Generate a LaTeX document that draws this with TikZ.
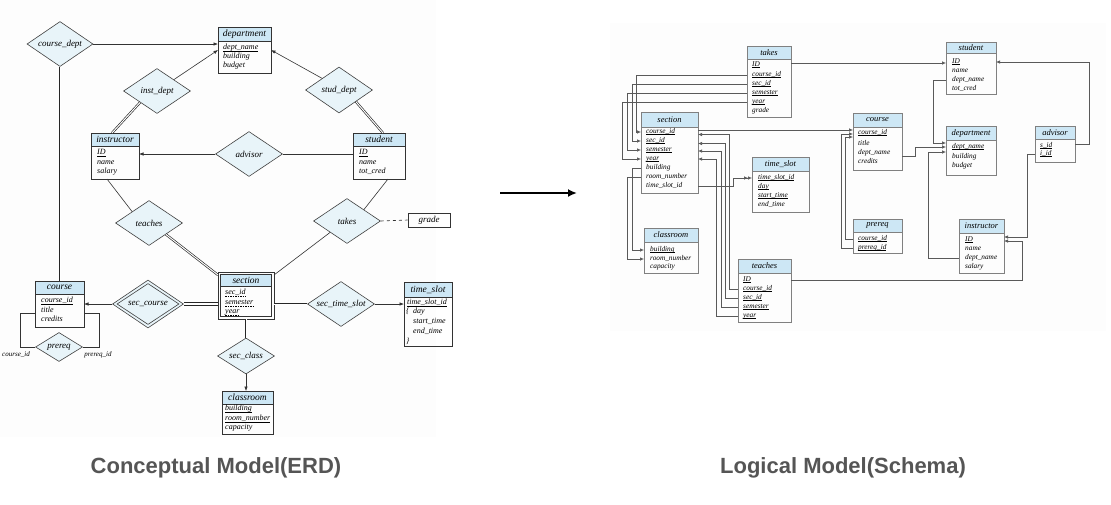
\documentclass[tikz,border=0pt]{standalone}
\usepackage{fontspec}
\setmainfont{Liberation Serif}
\newfontfamily\capfont{Liberation Sans}
\usetikzlibrary{shapes.geometric,arrows.meta,calc}
\definecolor{hdrblue}{RGB}{205,231,245}
\definecolor{relfill}{RGB}{232,244,249}
\definecolor{panelbg}{RGB}{253,253,253}
\definecolor{capgray}{RGB}{85,85,85}
\newcommand\ul[1]{\setbox0\hbox{#1}\rlap{\rule[-1.3pt]{\wd0}{0.45pt}}\box0}
\tikzset{
  erdline/.style={draw=black!80, line width=0.6pt},
  erddbl/.style={draw=black!85, line width=0.65pt, double=white, double distance=1pt},
  erdheavy/.style={draw=black!85, line width=1pt, double=white, double distance=1.1pt},
  erdarr/.style={erdline, -{Latex[length=4.5pt,width=3.5pt]}},
  rel/.style={diamond, aspect=1.5, draw=black!75, line width=0.6pt, fill=relfill, inner sep=0pt,
    font=\fontsize{9}{10}\selectfont\itshape},
  erdbox/.style={draw=black!80, line width=0.8pt, inner sep=0pt, outer sep=0pt},
  erdtitle/.style={font=\fontsize{9.5}{10}\selectfont\itshape, inner sep=0pt},
  erdattr/.style={anchor=west, font=\fontsize{8}{9}\selectfont\itshape, inner sep=0pt,
    text height=5pt, text depth=1.5pt},
  erdsmall/.style={font=\fontsize{7}{8}\selectfont\itshape, inner sep=0pt},
  schbox/.style={draw=black!50, line width=0.6pt, inner sep=0pt, outer sep=0pt},
  schtitle/.style={font=\fontsize{8.5}{9}\selectfont\itshape, inner sep=0pt},
  schattr/.style={anchor=west, font=\fontsize{7.3}{8}\selectfont\itshape, inner sep=0pt,
    text height=4.5pt, text depth=1.5pt},
  schline/.style={draw=black!65, line width=0.6pt},
  scharr/.style={schline, -{Latex[length=4pt,width=3.4pt]}},
  schdarr/.style={schline, -{Latex[length=4pt,width=3.4pt]Latex[length=4pt,width=3.4pt]}},
  caption/.style={font=\capfont\bfseries\fontsize{22}{24}\selectfont, text=capgray, inner sep=0pt},
  dashul/.style={draw=black, line width=0.45pt, dash pattern=on 1.5pt off 1pt},
}
% #1 style prefix, #2 name, #3 x1, #4 y1, #5 x2, #6 y2, #7 header bottom, #8 title
\newcommand\mktab[8]{%
  \fill[hdrblue] (#3,#4) rectangle (#5,#7);
  \node[#1box, minimum width={(#5-#3)*1pt}, minimum height={(#6-#4)*1pt}] (#2) at ({(#3+#5)/2},{(#4+#6)/2}) {};
  \draw[#1box] (#3,#7) -- (#5,#7);
  \node[#1title] (#2-t) at ({(#3+#5)/2},{(#4+#7)/2}) {#8};
}
\begin{document}
\begin{tikzpicture}[x=1pt,y=-1pt]
\useasboundingbox (0,0) rectangle (1111,504);
\fill[panelbg] (0,0) rectangle (436,437);
\fill[panelbg] (610,23) rectangle (1106,331);

% ================= ERD =================
\mktab{erd}{edept}{218}{27}{271}{73}{41}{department}
\node[erdattr] (ed-dn) at (223,48) {\ul{dept\_name}};
\node[erdattr] (ed-bl) at (223,57) {building};
\node[erdattr] (ed-bu) at (223,66) {budget};

\mktab{erd}{einst}{91}{133}{139}{179}{146}{instructor}
\node[erdattr] (ei-id) at (97,153) {\ul{ID}};
\node[erdattr] (ei-nm) at (97,163) {name};
\node[erdattr] (ei-sa) at (97,172) {salary};

\mktab{erd}{estud}{353}{133}{405}{179}{146}{student}
\node[erdattr] (es-id) at (359,153) {\ul{ID}};
\node[erdattr] (es-nm) at (359,163) {name};
\node[erdattr] (es-tc) at (359,172) {tot\_cred};

\mktab{erd}{ecourse}{35}{281}{84}{327}{294}{course}
\node[erdattr] (ec-id) at (41,301) {\ul{course\_id}};
\node[erdattr] (ec-ti) at (41,311) {title};
\node[erdattr] (ec-cr) at (41,320) {credits};

\mktab{erd}{ets}{404}{282}{452}{346}{297}{time\_slot}
\node[erdattr] (et-id) at (407,303) {\ul{time\_slot\_id}};
\node[erdattr] (et-ob) at (406,312) {\{};
\node[erdattr] (et-dy) at (413,312) {day};
\node[erdattr] (et-st) at (413,322) {start\_time};
\node[erdattr] (et-et) at (413,332) {end\_time};
\node[erdattr] (et-cb) at (406,342) {\}};

\mktab{erd}{eclass}{222}{391}{273}{434}{404}{classroom}
\node[erdattr] (el-bl) at (225,409) {\ul{building}};
\node[erdattr] (el-rn) at (225,419) {\ul{room\_number}};
\node[erdattr] (el-ca) at (225,428) {capacity};

% weak entity section
\fill[hdrblue] (220.5,274.5) rectangle (271.5,286);
\node[erdbox, minimum width=56pt, minimum height=47pt] (esec) at (246,295.5) {};
\draw[erdbox] (220.5,274.5) rectangle (271.5,316.5);
\draw[erdbox] (220.5,286) -- (271.5,286);
\node[erdtitle] (esec-t) at (246,280.25) {section};
\node[erdattr] (es-sid) at (225,293) {sec\_id};
\node[erdattr] (es-sem) at (225,303) {semester};
\node[erdattr] (es-yr) at (225,312) {year};
\foreach \n in {es-sid,es-sem,es-yr}
  \draw[dashul] ($(\n.base west)+(0,1.3)$) -- ($(\n.base east)+(0,1.3)$);

\node[draw=black!80, line width=0.8pt, minimum width=42pt, minimum height=14pt, inner sep=0pt,
  font=\fontsize{9}{10}\selectfont\itshape] (grade) at (429,220) {grade};

% relationships
\node[rel, minimum width=66pt, minimum height=45pt] (coursedept) at (60,44) {course\_dept};
\node[rel, minimum width=67pt, minimum height=45pt] (instdept) at (157,91) {inst\_dept};
\node[rel, minimum width=67pt, minimum height=46pt] (studdept) at (339,90) {stud\_dept};
\node[rel, minimum width=67pt, minimum height=45pt] (advisor) at (249,154) {advisor};
\node[rel, minimum width=67pt, minimum height=45pt] (teaches) at (149,223) {teaches};
\node[rel, minimum width=67pt, minimum height=45pt] (takes) at (347,221) {takes};
\node[rel, minimum width=71pt, minimum height=48pt] (seccourse) at (148,304) {};
\node[diamond, aspect=1.5, draw=black!75, line width=0.6pt, inner sep=0pt, minimum width=62pt, minimum height=41pt,
  font=\fontsize{9}{10}\selectfont\itshape] (seccourse-in) at (148,304) {sec\_course};
\node[rel, minimum width=67pt, minimum height=45pt] (secslot) at (341,304) {sec\_time\_slot};
\node[rel, minimum width=57pt, minimum height=36pt] (secclass) at (246,356) {sec\_class};
\node[rel, minimum width=47pt, minimum height=29pt] (prereq) at (59,347) {prereq};
\node[erdsmall] (lcid) at (16,355) {course\_id};
\node[erdsmall] (lpid) at (98,355) {prereq\_id};

% ERD connectors
\draw[erdarr] (coursedept.east) -- (coursedept.east -| edept.west);
\draw[erdarr] (instdept.north east) -- (edept.west);
\draw[erdarr] (studdept.north west) -- (edept.east);
\draw[erddbl] ($(einst.north)+(-3,0)$) -- (instdept.south west);
\draw[erddbl] ($(estud.north)+(4,0)$) -- (studdept.south east);
\draw[erdarr] (advisor.west) -- (advisor.west -| einst.east);
\draw[erdline] (advisor.east) -- (advisor.east -| estud.west);
\draw[erdline] ($(einst.south)+(-8,0)$) -- (teaches.north west);
\draw[erdline] ($(estud.south)+(9,0)$) -- (takes.north east);
\draw[erddbl] (teaches.south east) -- ($(esec.north west)+(0,3)$);
\draw[erdline] (takes.south west) -- ($(esec.north east)+(0,3)$);
\draw[erdline, dashed] (takes.east) -- (grade.west);
\draw[erddbl] (coursedept.south) -- (coursedept.south |- ecourse.north);
\draw[erdarr] (seccourse.west) -- (seccourse.west -| ecourse.east);
\draw[erdheavy] (seccourse.east) -- (seccourse.east -| esec.west);
\draw[erddbl] (secslot.west -| esec.east) -- (secslot.west);
\draw[erdarr] (secslot.east) -- (secslot.east -| ets.west);
\draw[erddbl] (esec.south) -- (secclass.north);
\draw[erdarr] (secclass.south) -- (secclass.south |- eclass.north);
\draw[erdline] (prereq.west) -| ($(ecourse.west)+(-15,9)$) -- ($(ecourse.west)+(0,9)$);
\draw[erdline] (prereq.east) -| ($(ecourse.east)+(15,9)$) -- ($(ecourse.east)+(0,9)$);

% middle arrow
\coordinate (ma1) at (500,193);
\coordinate (ma2) at (577,193);
\draw[line width=2.2pt, -{Latex[length=9pt,width=8pt]}] (ma1) -- (ma2);

% ================= Schema =================
\mktab{sch}{ttakes}{747}{46}{791}{117}{59}{takes}
\node[schattr] (tk-id) at (752,65) {\ul{ID}};
\node[schattr] (tk-cid) at (752,75) {\ul{course\_id}};
\node[schattr] (tk-sid) at (752,84) {\ul{sec\_id}};
\node[schattr] (tk-sem) at (752,93) {\ul{semester}};
\node[schattr] (tk-yr) at (752,102) {\ul{year}};
\node[schattr] (tk-gr) at (752,111) {grade};

\mktab{sch}{tsec}{641}{112}{698}{193}{127}{section}
\node[schattr] (sc-cid) at (646,132) {\ul{course\_id}};
\node[schattr] (sc-sid) at (646,141) {\ul{sec\_id}};
\node[schattr] (sc-sem) at (646,150) {\ul{semester}};
\node[schattr] (sc-yr) at (646,159) {\ul{year}};
\node[schattr] (sc-bld) at (646,168) {building};
\node[schattr] (sc-rn) at (646,177) {room\_number};
\node[schattr] (sc-ts) at (646,186) {time\_slot\_id};

\mktab{sch}{tts}{752}{157}{809}{212}{171}{time\_slot}
\node[schattr] (ts-id) at (758,178) {\ul{time\_slot\_id}};
\node[schattr] (ts-day) at (758,187) {\ul{day}};
\node[schattr] (ts-st) at (758,196) {\ul{start\_time}};
\node[schattr] (ts-et) at (758,205) {end\_time};

\mktab{sch}{tcr}{644}{228}{698}{273}{242}{classroom}
\node[schattr] (cr-bld) at (650,250) {\ul{building}};
\node[schattr] (cr-rn) at (650,259) {room\_number};
\node[schattr] (cr-cap) at (650,267) {capacity};

\mktab{sch}{tte}{738}{259}{791}{322}{273}{teaches}
\node[schattr] (te-id) at (743,280) {\ul{ID}};
\node[schattr] (te-cid) at (743,289) {\ul{course\_id}};
\node[schattr] (te-sid) at (743,298) {\ul{sec\_id}};
\node[schattr] (te-sem) at (743,307) {\ul{semester}};
\node[schattr] (te-yr) at (743,316) {\ul{year}};

\mktab{sch}{tco}{853}{113}{902}{170}{127}{course}
\node[schattr] (co-cid) at (858,133) {\ul{course\_id}};
\node[schattr] (co-ti) at (858,144) {title};
\node[schattr] (co-dn) at (858,153) {dept\_name};
\node[schattr] (co-cr) at (858,162) {credits};

\mktab{sch}{tpr}{853}{219}{902}{253}{232}{prereq}
\node[schattr] (pr-cid) at (858,239) {\ul{course\_id}};
\node[schattr] (pr-pid) at (858,248) {\ul{prereq\_id}};

\mktab{sch}{tst}{946}{42}{996}{94}{53}{student}
\node[schattr] (st-id) at (952,62) {\ul{ID}};
\node[schattr] (st-nm) at (952,71) {name};
\node[schattr] (st-dn) at (952,80) {dept\_name};
\node[schattr] (st-tc) at (952,89) {tot\_cred};

\mktab{sch}{tde}{946}{126}{996}{175}{140}{department}
\node[schattr] (de-dn) at (952,147) {\ul{dept\_name}};
\node[schattr] (de-bl) at (952,157) {building};
\node[schattr] (de-bu) at (952,166) {budget};

\mktab{sch}{tad}{1035}{126}{1075}{162}{139}{advisor}
\node[schattr] (ad-sid) at (1040,146) {\ul{s\_id}};
\node[schattr] (ad-iid) at (1040,154) {\ul{i\_id}};

\mktab{sch}{tin}{959}{219}{1004}{273}{233}{instructor}
\node[schattr] (in-id) at (965,240) {\ul{ID}};
\node[schattr] (in-nm) at (965,249) {name};
\node[schattr] (in-dn) at (965,258) {dept\_name};
\node[schattr] (in-sa) at (965,267) {salary};

% schema connectors
\draw[scharr] (tk-cid -| ttakes.west) -- ++(-111,0) |- (sc-cid -| tsec.west);
\draw[scharr] (tk-sid -| ttakes.west) -- ++(-115,0) |- (sc-sid -| tsec.west);
\draw[scharr] (tk-sem -| ttakes.west) -- ++(-120,0) |- (sc-sem -| tsec.west);
\draw[scharr] (tk-yr -| ttakes.west) -- ++(-125,0) |- (sc-yr -| tsec.west);
\draw[scharr] ($(tk-id -| ttakes.east)+(0,-2)$) -- ($(tk-id -| tst.west)+(0,-2)$);
\draw[scharr] ($(sc-cid -| tsec.east)+(0,-2)$) -- ($(sc-cid -| tco.west)+(0,-2)$);
\draw[scharr] (te-cid -| tte.west) -- ++(-9,0) |- ($(sc-cid -| tsec.east)+(0,2.5)$);
\draw[scharr] (te-sid -| tte.west) -- ++(-13,0) |- ($(sc-sid -| tsec.east)+(0,2.5)$);
\draw[scharr] (te-sem -| tte.west) -- ++(-17,0) |- ($(sc-sem -| tsec.east)+(0,1)$);
\draw[scharr] (te-yr -| tte.west) -- ++(-22,0) |- (sc-yr -| tsec.east);
\draw[scharr] (sc-bld -| tsec.west) -- ++(-9,0) |- (cr-bld -| tcr.west);
\draw[scharr] (sc-rn -| tsec.west) -- ++(-14,0) |- (cr-rn -| tcr.west);
\draw[schdarr] (sc-ts -| tsec.east) -- ++(35,0) |- (ts-id -| tts.west);
\draw[scharr] (te-id -| tte.east) -- ++(231,0) |- ($(in-id -| tin.east)+(0,1)$);
\draw[scharr] (ad-iid -| tad.west) -- ++(-8,0) |- ($(in-id -| tin.east)+(0,-3)$);
\draw[scharr] ($(ad-sid -| tad.east)+(0,-2)$) -- ++(14,0) |- (st-id -| tst.east);
\draw[scharr] (st-dn -| tst.west) -- ++(-13,0) |- ($(de-dn -| tde.west)+(0,-4)$);
\draw[scharr] ($(co-dn -| tco.east)+(0,3)$) -- ++(13,0) |- (de-dn -| tde.west);
\draw[scharr] (in-dn -| tin.west) -- ++(-31,0) |- ($(de-dn -| tde.west)+(0,5)$);
\draw[scharr] (pr-cid -| tpr.west) -- ++(-8,0) |- ($(co-cid -| tco.west)+(0,4)$);
\draw[scharr] (pr-pid -| tpr.west) -- ++(-12,0) |- ($(co-cid -| tco.west)+(0,1)$);

% captions
\node[caption] (cap1) at (216,468) {Conceptual Model(ERD)};
\node[caption] (cap2) at (843,468) {Logical Model(Schema)};
\end{tikzpicture}
\end{document}
